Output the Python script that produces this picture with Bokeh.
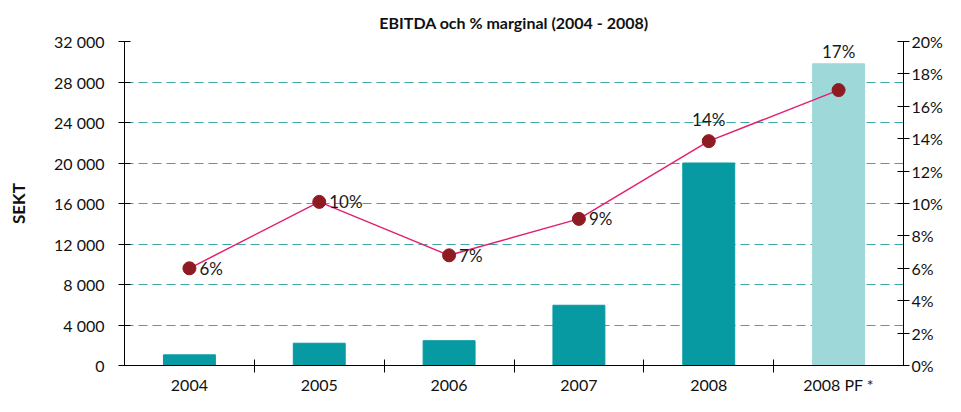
from bokeh.plotting import figure
from bokeh.models import Range1d, LinearAxis, FixedTicker
from bokeh.core.properties import value
from bokeh.embed import file_html
from bokeh.resources import INLINE

categories = ["2004", "2005", "2006", "2007", "2008", "2008 PF *"]
ebitda = [1050, 2200, 2450, 5950, 20000, 29800]
margin_pct = [6.0, 10.1, 6.8, 9.05, 13.85, 17.0]
margin_labels = ["6%", "10%", "7%", "9%", "14%", "17%"]
left_ticks = [0, 4000, 8000, 12000, 16000, 20000, 24000, 28000, 32000]
left_tick_labels = ["0", "4 000", "8 000", "12 000", "16 000", "20 000", "24 000", "28 000", "32 000"]
right_ticks = [0, 2, 4, 6, 8, 10, 12, 14, 16, 18, 20]
right_tick_labels = ["0%", "2%", "4%", "6%", "8%", "10%", "12%", "14%", "16%", "18%", "20%"]
bar_colors = ["#079aa2", "#079aa2", "#079aa2", "#079aa2", "#079aa2", "#9ed8d9"]

FONT = "Lato"
xs = [i + 0.5 for i in range(len(categories))]

p = figure(width=945, height=396, x_range=Range1d(0, len(categories)),
           y_range=Range1d(0, 32000), output_backend="svg", toolbar_location=None,
           min_border_left=124, min_border_right=34, min_border_top=41, min_border_bottom=27)
p.extra_y_ranges = {"pct": Range1d(0, 20)}
p.outline_line_color = None
p.background_fill_color = "white"
p.border_fill_color = "white"

p.title.text = "EBITDA och % marginal (2004 - 2008)"
p.title.align = "center"
p.title.text_font = FONT
p.title.text_font_size = "16px"
p.title.text_font_style = "bold"
p.title.text_color = "#111111"
p.title.standoff = 19

# grid
p.xgrid.visible = False
p.ygrid.ticker = FixedTicker(ticks=left_ticks)
p.ygrid.grid_line_color = "#3fa6a6"
p.ygrid.grid_line_dash = "9 5"
p.ygrid.grid_line_width = 1.2

# left axis
ya = p.yaxis[0]
ya.ticker = FixedTicker(ticks=left_ticks)
ya.major_label_overrides = {t: l for t, l in zip(left_ticks, left_tick_labels)}
ya.axis_label = "SEKT"
ya.axis_label_text_font = FONT
ya.axis_label_text_font_style = "bold"
ya.axis_label_text_font_size = "17px"
ya.axis_label_text_color = "#111111"
ya.axis_label_standoff = 22
ya.major_label_text_font = FONT
ya.major_label_text_font_size = "16px"
ya.major_label_text_color = "#111111"
ya.major_tick_in = 6
ya.major_tick_out = 6
ya.minor_tick_line_color = None
ya.major_label_standoff = 14
ya.axis_line_color = "black"

# bottom axis
xa = p.xaxis[0]
xa.ticker = FixedTicker(ticks=xs, minor_ticks=list(range(1, len(categories))))
xa.major_label_overrides = {x: c for x, c in zip(xs, categories)}
xa.major_tick_line_color = None
xa.major_tick_in = 0
xa.major_tick_out = 0
xa.minor_tick_line_color = "black"
xa.minor_tick_in = 6
xa.minor_tick_out = 7
xa.major_label_standoff = 2
xa.major_label_text_font = FONT
xa.major_label_text_font_size = "16px"
xa.major_label_text_color = "#111111"

# right axis
ra = LinearAxis(y_range_name="pct", ticker=FixedTicker(ticks=right_ticks))
ra.major_label_overrides = {t: l for t, l in zip(right_ticks, right_tick_labels)}
ra.major_label_text_font = FONT
ra.major_label_text_font_size = "16px"
ra.major_label_text_color = "#111111"
ra.major_tick_in = 6
ra.major_tick_out = 6
ra.minor_tick_line_color = None
ra.major_label_standoff = 2
p.add_layout(ra, "right")

# bars
p.vbar(x=xs, top=ebitda, width=0.4, color=bar_colors)

# margin line
p.line(xs, margin_pct, y_range_name="pct", color="#e3206f", line_width=1.5)
p.scatter(xs, margin_pct, y_range_name="pct", size=13, color="#8e1a22")

common = dict(y_range_name="pct", text_font=value(FONT), text_font_size="17px",
              text_color="#1a1a1a", text_baseline="middle")
p.text(xs[:4], margin_pct[:4], text=margin_labels[:4], x_offset=10, text_align="left", **common)
p.text(xs[4:5], margin_pct[4:5], text=margin_labels[4:5], y_offset=-22, text_align="center", **common)
p.text(xs[5:6], margin_pct[5:6], text=margin_labels[5:6], y_offset=-39, text_align="center", **common)

open("out.html", "w").write(file_html(p, INLINE))
